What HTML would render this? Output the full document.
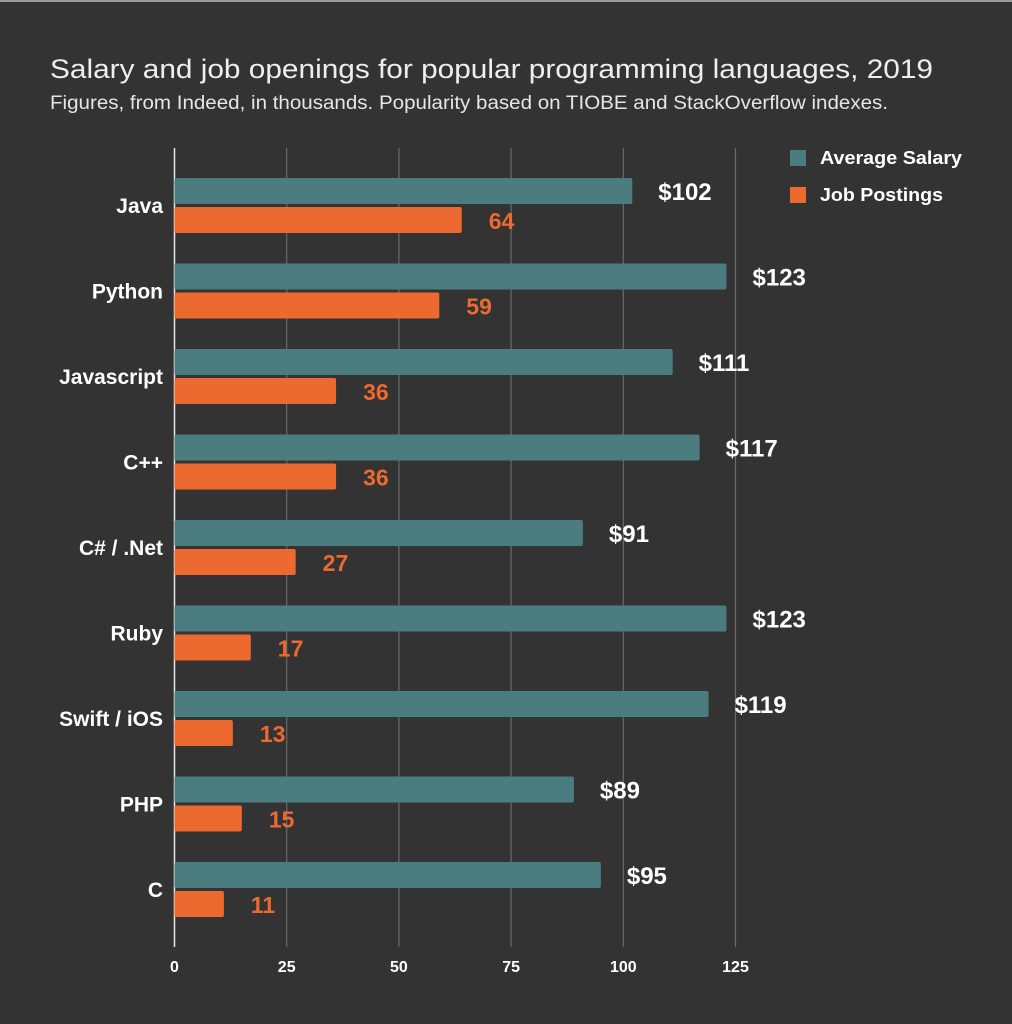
<!DOCTYPE html>
<html><head><meta charset="utf-8"><style>
html,body{margin:0;padding:0;background:#333;}
svg{display:block;font-family:"Liberation Sans",sans-serif;}
</style></head><body>
<svg width="1012" height="1024" xmlns="http://www.w3.org/2000/svg">
<rect x="0" y="0" width="1012" height="1024" fill="#333"/>
<rect x="0" y="0" width="1012" height="2" fill="#9a9a9a"/>
<text x="50" y="78" font-size="27" fill="#eeeeee" textLength="883" lengthAdjust="spacingAndGlyphs">Salary and job openings for popular programming languages, 2019</text>
<text x="50" y="109" font-size="19" fill="#e6e6e6" textLength="838" lengthAdjust="spacingAndGlyphs">Figures, from Indeed, in thousands. Popularity based on TIOBE and StackOverflow indexes.</text>
<g id="grid"></g>
<g id="bars"></g>
<rect x="790" y="150" width="16" height="16" fill="#4b7c7f"/>
<text x="820" y="164" font-size="18" font-weight="bold" fill="#fff" textLength="142" lengthAdjust="spacingAndGlyphs">Average Salary</text>
<rect x="790" y="187" width="16" height="16" fill="#ec6a2f"/>
<text x="820" y="201" font-size="18" font-weight="bold" fill="#fff" textLength="123" lengthAdjust="spacingAndGlyphs">Job Postings</text>
</svg>
<script>
const categories=["Java","Python","Javascript","C++","C# / .Net","Ruby","Swift / iOS","PHP","C"];
const salary=[102,123,111,117,91,123,119,89,95];
const jobs=[64,59,36,36,27,17,13,15,11];
const ticks=[0,25,50,75,100,125];
const NS="http://www.w3.org/2000/svg";
const x0=174.5, pxPer=4.488;
function xs(v){return x0+v*pxPer;}
const rowTop=178, pitch=85.5, barH=26;
function ys(i){return rowTop+i*pitch;}
function mk(tag,attrs,parent){const e=document.createElementNS(NS,tag);for(const k in attrs)e.setAttribute(k,attrs[k]);parent.appendChild(e);return e;}
const grid=document.getElementById('grid'), bars=document.getElementById('bars');
ticks.forEach(t=>{
  const l=mk('line',{x1:xs(t),x2:xs(t),y1:148,y2:947,stroke:t===0?'#e8e8e8':'#6a6a6a','stroke-width':t===0?1.5:1.2},grid);
  
  
  const tx=mk('text',{x:xs(t),y:972,'text-anchor':'middle','font-size':16,'font-weight':'bold',fill:'#fff'},grid);
  tx.textContent=t;
  
  
});
categories.forEach((c,i)=>{
  const y=ys(i);
  const lab=mk('text',{x:163,y:y+35,'text-anchor':'end','font-size':21,'font-weight':'bold',fill:'#fff'},bars);
  lab.textContent=c;
  
  
  const b1=mk('rect',{x:x0,y:y,width:xs(salary[i])-x0,height:barH,rx:2,fill:'#4b7c7f'},bars);
  
  
  const v1=mk('text',{x:xs(salary[i])+26,y:y+22,'font-size':24,'font-weight':'bold',fill:'#fff'},bars);
  v1.textContent='$'+salary[i];
  
  
  const b2=mk('rect',{x:x0,y:y+29,width:xs(jobs[i])-x0,height:barH,rx:2,fill:'#ec6a2f'},bars);
  
  
  const v2=mk('text',{x:xs(jobs[i])+27,y:y+51,'font-size':23,'font-weight':'bold',fill:'#ec6a2f'},bars);
  v2.textContent=jobs[i];
  
  
});
</script>
</body></html>
